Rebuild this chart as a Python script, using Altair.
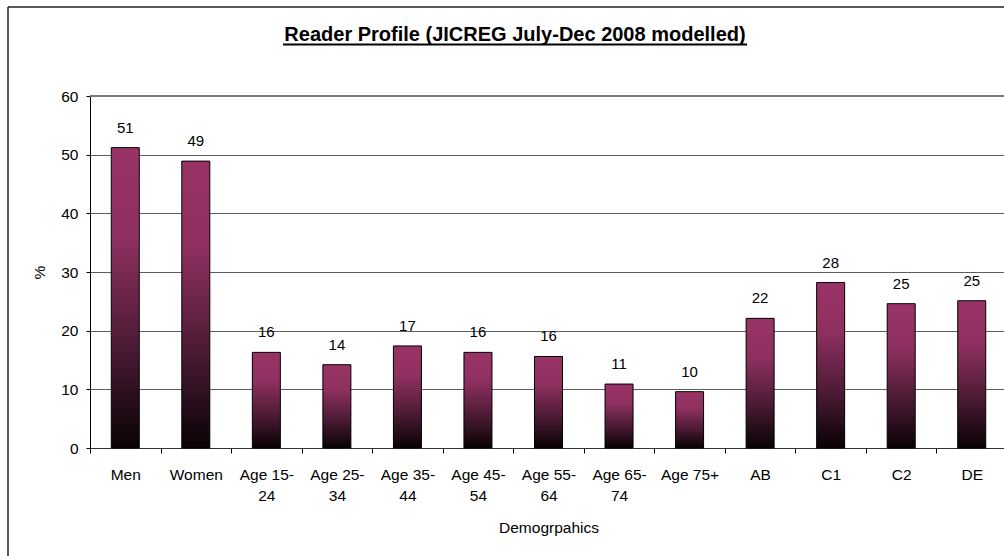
import altair as alt
import pandas as pd

# Reader profile by demographic group (%)
categories = ["Men", "Women", "Age 15-24", "Age 25-34", "Age 35-44", "Age 45-54",
              "Age 55-64", "Age 65-74", "Age 75+", "AB", "C1", "C2", "DE"]
percent = [51.2, 48.9, 16.3, 14.2, 17.4, 16.3, 15.6, 10.9, 9.6, 22.1, 28.2, 24.6, 25.1]
y_ticks = [0, 10, 20, 30, 40, 50, 60]

title_text = "Reader Profile (JICREG July-Dec 2008 modelled)"
x_title = "Demogrpahics"
y_title = "%"

df = pd.DataFrame({"group": categories, "pct": percent})
one = alt.Data(values=[{}])

FONT = "Liberation Sans"
LEFT, TOP = 90, 96          # plot origin inside the page
W, H = 914, 352             # visible plot area
PAGE_W, PAGE_H = 1004, 556

bar_fill = alt.Gradient(
    gradient="linear", x1=0, x2=0, y1=0, y2=1,
    stops=[
        alt.GradientStop(offset=0, color="#993366"),
        alt.GradientStop(offset=0.3, color="#8e3060"),
        alt.GradientStop(offset=0.65, color="#4e1b36"),
        alt.GradientStop(offset=1, color="#080205"),
    ],
)

split_label = (
    "indexof(datum.label, '-') > 0 ? "
    "[slice(datum.label, 0, indexof(datum.label, '-') + 1), "
    "slice(datum.label, indexof(datum.label, '-') + 1)] : datum.label"
)

x_enc = alt.X(
    "group:N",
    sort=categories,
    scale=alt.Scale(domain=categories, range=[0, 917], paddingInner=0, paddingOuter=0),
    axis=alt.Axis(
        title=x_title,
        titleFont=FONT, titleFontSize=15.5, titleFontWeight="normal", titleColor="black",
        titleY=84, titleBaseline="alphabetic",
        labelFont=FONT, labelFontSize=15.5, labelColor="black", labelAngle=0,
        labelExpr=split_label, labelLineHeight=21.5, labelPadding=14,
        tickBand="extent", tickSize=5, tickColor="black",
        domainColor="#333333", domainWidth=1, grid=False,
    ),
)

y_enc = alt.Y(
    "pct:Q",
    scale=alt.Scale(domain=[0, 60], nice=False),
    axis=alt.Axis(
        values=y_ticks,
        title=y_title,
        titleFont=FONT, titleFontSize=15.5, titleFontWeight="normal", titleColor="black",
        titleAngle=270, titleX=-51, titleY=H / 2, titleAlign="center", titleBaseline="middle",
        labelFont=FONT, labelFontSize=15.5, labelColor="black", labelPadding=8,
        tickSize=4, tickColor="black",
        domainColor="black", domainWidth=1,
        grid=True, gridColor="#5e5e5e", gridWidth=1,
    ),
)

# heavier top edge of the plot area at the axis maximum
top_edge = alt.Chart(one).mark_rule(color="#7a7a7a", strokeWidth=2).encode(
    y=alt.datum(max(y_ticks)), x=alt.value(0), x2=alt.value(W)
)

bars = alt.Chart(df).mark_bar(
    fill=bar_fill, stroke="black", strokeWidth=1, size=28
).encode(x=x_enc, y=y_enc)

values = alt.Chart(df).mark_text(
    font=FONT, fontSize=15, color="black", baseline="alphabetic", dy=-15
).encode(
    x=alt.X("group:N", sort=categories),
    y="pct:Q",
    text=alt.Text("pct:Q", format=".0f"),
)

# chart frame (left and top edges)
frame_left = alt.Chart(one).mark_rule(color="#222222", strokeWidth=1.5).encode(
    x=alt.value(8 - LEFT), y=alt.value(7 - TOP), y2=alt.value(PAGE_H - TOP + 10)
)
frame_top = alt.Chart(one).mark_rule(color="#222222", strokeWidth=1.5).encode(
    x=alt.value(8 - LEFT), x2=alt.value(PAGE_W - LEFT + 10), y=alt.value(7 - TOP)
)

# underlined bold heading
heading = alt.Chart(one).mark_text(
    font=FONT, fontSize=20, fontWeight="bold", color="black",
    align="center", baseline="alphabetic"
).encode(x=alt.value(515 - LEFT), y=alt.value(41 - TOP), text=alt.value(title_text))

underline = alt.Chart(one).mark_rule(color="black", strokeWidth=2).encode(
    x=alt.value(283 - LEFT), x2=alt.value(747 - LEFT), y=alt.value(44.5 - TOP)
)

chart = alt.layer(bars, top_edge, values, frame_left, frame_top, heading, underline).properties(
    width=W,
    height=H,
    autosize=alt.AutoSizeParams(type="none"),
    padding={"left": LEFT, "top": TOP, "right": PAGE_W - LEFT - W, "bottom": PAGE_H - TOP - H},
    background="white",
).configure_view(stroke=None)

chart.save("out.html", embed_options={"renderer": "svg", "actions": False})
